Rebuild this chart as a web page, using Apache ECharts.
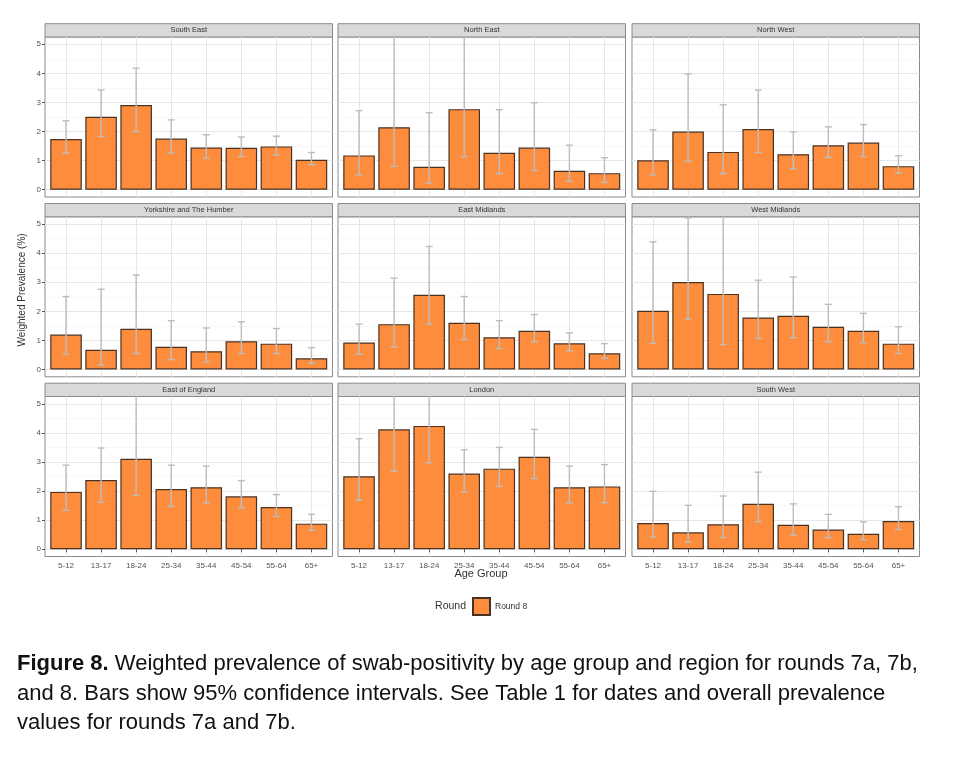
<!DOCTYPE html>
<html>
<head>
<meta charset="utf-8">
<script src="https://cdn.jsdelivr.net/npm/echarts@6/dist/echarts.min.js"></script>
<style>
html,body{margin:0;padding:0;background:#fff;}
#chart{width:960px;height:757px;}
</style>
</head>
<body>
<div id="chart"></div>
<script>
// ---------- DATA ----------
const ageGroups = ['5-12','13-17','18-24','25-34','35-44','45-54','55-64','65+'];
const regions = ['South East','North East','North West','Yorkshire and The Humber','East Midlands','West Midlands','East of England','London','South West'];
const yTicks = [0,1,2,3,4,5];
const yMinorTicks = [0.5,1.5,2.5,3.5,4.5];

const prevSouthEast = [1.74, 2.51, 2.91, 1.76, 1.45, 1.44, 1.49, 1.03];
const lowSouthEast  = [1.26, 1.83, 2.00, 1.26, 1.09, 1.14, 1.20, 0.86];
const upSouthEast   = [2.37, 3.43, 4.18, 2.40, 1.89, 1.81, 1.84, 1.28];

const prevNorthEast = [1.18, 2.15, 0.79, 2.77, 1.27, 1.45, 0.65, 0.57];
const lowNorthEast  = [0.51, 0.80, 0.23, 1.14, 0.55, 0.66, 0.29, 0.25];
const upNorthEast   = [2.72, 6.00, 2.65, 6.60, 2.75, 2.99, 1.53, 1.10];

const prevNorthWest = [1.01, 2.00, 1.30, 2.09, 1.22, 1.53, 1.62, 0.81];
const lowNorthWest  = [0.51, 0.97, 0.55, 1.28, 0.72, 1.11, 1.14, 0.57];
const upNorthWest   = [2.06, 3.98, 2.92, 3.43, 1.99, 2.16, 2.24, 1.17];

const prevYorkshire = [1.20, 0.68, 1.40, 0.78, 0.63, 0.97, 0.89, 0.39];
const lowYorkshire  = [0.53, 0.15, 0.55, 0.34, 0.26, 0.55, 0.55, 0.21];
const upYorkshire   = [2.51, 2.76, 3.25, 1.68, 1.43, 1.64, 1.41, 0.75];

const prevEastMidlands = [0.93, 1.56, 2.57, 1.61, 1.11, 1.33, 0.90, 0.56];
const lowEastMidlands  = [0.53, 0.78, 1.56, 1.03, 0.72, 0.95, 0.64, 0.38];
const upEastMidlands   = [1.56, 3.14, 4.23, 2.51, 1.68, 1.89, 1.26, 0.89];

const prevWestMidlands = [2.02, 3.01, 2.60, 1.79, 1.85, 1.47, 1.33, 0.89];
const lowWestMidlands  = [0.90, 1.74, 0.86, 1.07, 1.09, 0.95, 0.92, 0.55];
const upWestMidlands   = [4.39, 5.21, 5.90, 3.07, 3.18, 2.24, 1.93, 1.47];

const prevEastEngland = [1.97, 2.38, 3.11, 2.07, 2.13, 1.82, 1.45, 0.88];
const lowEastEngland  = [1.34, 1.62, 1.85, 1.48, 1.59, 1.43, 1.13, 0.65];
const upEastEngland   = [2.89, 3.48, 5.30, 2.89, 2.86, 2.36, 1.88, 1.20];

const prevLondon = [2.51, 4.12, 4.24, 2.60, 2.77, 3.18, 2.13, 2.16];
const lowLondon  = [1.68, 2.68, 2.97, 1.97, 2.16, 2.43, 1.59, 1.60];
const upLondon   = [3.80, 5.80, 5.90, 3.42, 3.50, 4.12, 2.86, 2.91];

const prevSouthWest = [0.90, 0.58, 0.86, 1.56, 0.84, 0.68, 0.53, 0.97];
const lowSouthWest  = [0.42, 0.25, 0.40, 0.94, 0.48, 0.40, 0.33, 0.68];
const upSouthWest   = [1.99, 1.51, 1.83, 2.65, 1.56, 1.20, 0.94, 1.46];

const prevByRegion = [prevSouthEast, prevNorthEast, prevNorthWest, prevYorkshire, prevEastMidlands, prevWestMidlands, prevEastEngland, prevLondon, prevSouthWest];
const lowByRegion  = [lowSouthEast, lowNorthEast, lowNorthWest, lowYorkshire, lowEastMidlands, lowWestMidlands, lowEastEngland, lowLondon, lowSouthWest];
const upByRegion   = [upSouthEast, upNorthEast, upNorthWest, upYorkshire, upEastMidlands, upWestMidlands, upEastEngland, upLondon, upSouthWest];

// ---------- LAYOUT ----------
const FONT = "'Liberation Sans', Arial, sans-serif";
const colLeft = [45, 338, 632];
const rowTop = [37, 216.8, 396.5];
const panelW = 287.5, panelH = 160, stripH = 13.3;
const xMin = 0.4, xMax = 8.6, yMin = -0.25, yMax = 5.25;
const xPos = ageGroups.map((a, i) => i + 1);

const grids = [], xAxes = [], yAxes = [], series = [], graphics = [];

regions.forEach((reg, i) => {
  const r = Math.floor(i / 3), c = i % 3;
  const left = colLeft[c], top = rowTop[r];
  grids.push({left: left, top: top, width: panelW, height: panelH, show: true,
    backgroundColor: '#fff', borderColor: '#8a8a8a', borderWidth: 1, containLabel: false});
  const bottomRow = r === 2, leftCol = c === 0;
  xAxes.push({type: 'value', gridIndex: i, min: xMin, max: xMax,
    axisLine: {show: false},
    axisTick: {show: bottomRow, customValues: xPos, length: 3, lineStyle: {color: '#555', width: 1}},
    axisLabel: {show: bottomRow, customValues: xPos, formatter: v => ageGroups[Math.round(v) - 1],
      fontSize: 8, color: '#555', margin: 5, fontFamily: FONT},
    splitLine: {show: true, lineStyle: {color: '#e6e6e6', width: 1}}
  });
  yAxes.push({type: 'value', gridIndex: i, min: yMin, max: yMax,
    axisLine: {show: false},
    axisTick: {show: leftCol, customValues: yTicks, length: 3, lineStyle: {color: '#555', width: 1}},
    axisLabel: {show: leftCol, customValues: yTicks, fontSize: 8, color: '#555', margin: 4, fontFamily: FONT},
    splitLine: {show: true, lineStyle: {color: '#e6e6e6', width: 1}}
  });
  yAxes.push({type: 'value', gridIndex: i, min: yMin, max: yMax,
    axisLine: {show: false},
    axisTick: {show: false, customValues: yMinorTicks},
    axisLabel: {show: false, customValues: yMinorTicks},
    splitLine: {show: true, lineStyle: {color: '#f1f1f1', width: 0.6}}
  });
  series.push({type: 'bar', name: 'Round 8', xAxisIndex: i, yAxisIndex: 2 * i,
    barWidth: 0.9 * panelW / (xMax - xMin),
    itemStyle: {color: '#FD8D3C', borderColor: '#4a3222', borderWidth: 1.2},
    data: prevByRegion[i].map((v, k) => [xPos[k], v]),
    z: 2, animation: false
  });
  series.push({type: 'custom', name: 'ci-' + reg, xAxisIndex: i, yAxisIndex: 2 * i,
    data: lowByRegion[i].map((lo, k) => [xPos[k], lo, upByRegion[i][k]]),
    renderItem: function (params, api) {
      const x = api.value(0), lo = api.value(1), hi = api.value(2);
      const hiC = Math.min(hi, yMax);
      const pLo = api.coord([x, lo]), pHi = api.coord([x, hiC]);
      const half = api.size([0.1, 0])[0];
      const st = {stroke: '#bdbdbd', lineWidth: 1.4};
      const ch = [
        {type: 'line', shape: {x1: pLo[0], y1: pLo[1], x2: pHi[0], y2: pHi[1]}, style: st},
        {type: 'line', shape: {x1: pLo[0] - half, y1: pLo[1], x2: pLo[0] + half, y2: pLo[1]}, style: st}
      ];
      if (hi <= yMax) ch.push({type: 'line', shape: {x1: pHi[0] - half, y1: pHi[1], x2: pHi[0] + half, y2: pHi[1]}, style: st});
      return {type: 'group', children: ch};
    },
    z: 3, animation: false, silent: true
  });
  // facet strip
  graphics.push({type: 'rect', shape: {x: left, y: top - stripH, width: panelW, height: stripH},
    style: {fill: '#d9d9d9', stroke: '#8a8a8a', lineWidth: 1}, silent: true});
  graphics.push({type: 'text', x: left + panelW / 2, y: top - stripH / 2,
    style: {text: reg, fontSize: 7.5, fill: '#333', fontFamily: FONT, align: 'center', verticalAlign: 'middle'}});
});

// axis titles, legend title, caption
graphics.push({type: 'text', x: 22, y: 290, rotation: Math.PI / 2,
  style: {text: 'Weighted Prevalence (%)', fontSize: 10, fill: '#333', fontFamily: FONT, align: 'center', verticalAlign: 'middle'}});
graphics.push({type: 'text', x: 481, y: 574,
  style: {text: 'Age Group', fontSize: 11, fill: '#333', fontFamily: FONT, align: 'center', verticalAlign: 'middle'}});
graphics.push({type: 'text', x: 466, y: 606,
  style: {text: 'Round', fontSize: 10.5, fill: '#333', fontFamily: FONT, align: 'right', verticalAlign: 'middle'}});

const captionLines = [
  '{b|Figure 8.} Weighted prevalence of swab-positivity by age group and region for rounds 7a, 7b,',
  'and 8. Bars show 95% confidence intervals. See Table 1 for dates and overall prevalence',
  'values for rounds 7a and 7b.'
];
captionLines.forEach((t, k) => {
  graphics.push({type: 'text', x: 17, y: 664 + k * 29.5,
    style: {text: t, fontSize: 22, fill: '#111', fontFamily: FONT, align: 'left', verticalAlign: 'middle',
      rich: {b: {fontWeight: 'bold', fontSize: 22, fill: '#111', fontFamily: FONT}}}});
});

const chart = echarts.init(document.getElementById('chart'), null, {renderer: 'canvas'});
chart.setOption({
  backgroundColor: '#fff',
  animation: false,
  grid: grids,
  xAxis: xAxes,
  yAxis: yAxes,
  series: series,
  legend: {data: ['Round 8'], left: 467, top: 592, itemWidth: 17, itemHeight: 17, itemGap: 7,
    icon: 'rect', textStyle: {fontSize: 8.5, color: '#333', fontFamily: FONT}, selectedMode: false},
  graphic: graphics
});
</script>
</body>
</html>
